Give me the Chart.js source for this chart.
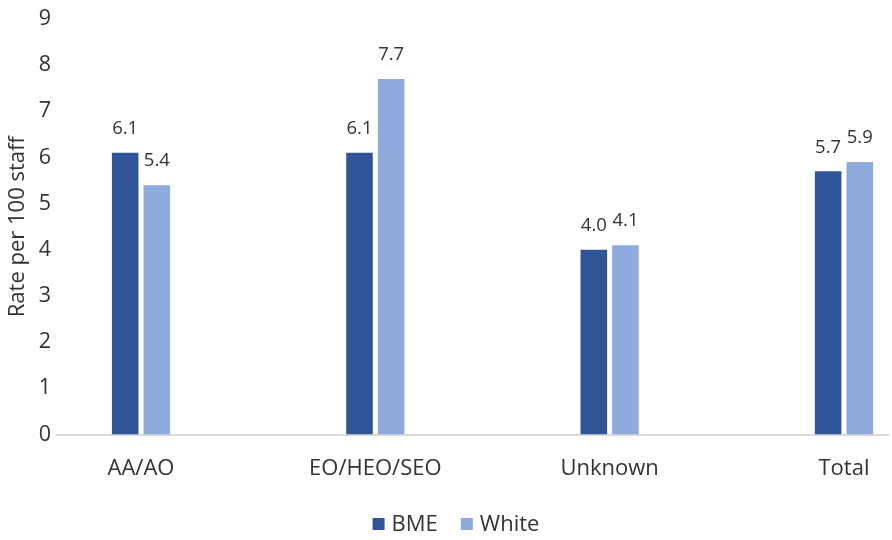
<!DOCTYPE html>
<html>
<head>
<meta charset="utf-8">
<script src="https://cdn.jsdelivr.net/npm/chart.js@4/dist/chart.umd.min.js"></script>
<style>
  html, body { margin: 0; padding: 0; background: #ffffff; }
  #wrap { width: 892px; height: 540px; position: relative; }
</style>
</head>
<body>
<div id="wrap"><canvas id="chart" width="892" height="540"></canvas></div>
<script>
// Rate per 100 staff by grade group
const categories = ['AA/AO', 'EO/HEO/SEO', 'Unknown', 'Total'];
const seriesNames = ['BME', 'White'];
const bmeRates = [6.1, 6.1, 4.0, 5.7];
const whiteRates = [5.4, 7.7, 4.1, 5.9];
const yTickValues = [0, 1, 2, 3, 4, 5, 6, 7, 8, 9];

const BME_COLOR = '#2F5597';
const WHITE_COLOR = '#8FAADC';
const TEXT_COLOR = '#333333';
const FONT_FAMILY = '"Open Sans", Lato, sans-serif';

// Value labels above each bar
const valueLabels = {
  id: 'valueLabels',
  afterDatasetsDraw(chart) {
    const ctx = chart.ctx;
    ctx.save();
    ctx.font = '18.5px ' + FONT_FAMILY;
    ctx.fillStyle = TEXT_COLOR;
    ctx.textAlign = 'center';
    ctx.textBaseline = 'middle';
    chart.data.datasets.forEach((ds, di) => {
      chart.getDatasetMeta(di).data.forEach((bar, i) => {
        ctx.fillText(ds.data[i].y.toFixed(1), bar.x, bar.y - 24);
      });
    });
    ctx.restore();
  }
};

// Horizontal legend row under the axis labels
const bottomLegend = {
  id: 'bottomLegend',
  afterDraw(chart) {
    const ctx = chart.ctx;
    const box = 12, textGap = 7, itemGap = 23, cy = 524, centerX = 456;
    ctx.save();
    ctx.font = '22px ' + FONT_FAMILY;
    ctx.textBaseline = 'middle';
    ctx.textAlign = 'left';
    const items = chart.data.datasets.map(ds => ({
      label: ds.label, color: ds.backgroundColor,
      w: box + textGap + ctx.measureText(ds.label).width
    }));
    const total = items.reduce((s, it) => s + it.w, 0) + itemGap * (items.length - 1);
    let x = centerX - total / 2;
    items.forEach(it => {
      ctx.fillStyle = it.color;
      ctx.fillRect(x, cy - box / 2, box, box);
      ctx.fillStyle = TEXT_COLOR;
      ctx.fillText(it.label, x + box + textGap, cy + 1);
      x += it.w + itemGap;
    });
    ctx.restore();
  }
};

new Chart(document.getElementById('chart'), {
  type: 'bar',
  data: {
    datasets: [
      {
        label: seriesNames[0],
        data: bmeRates.map((v, i) => ({ x: i, y: v })),
        backgroundColor: BME_COLOR,
        borderWidth: 0
      },
      {
        label: seriesNames[1],
        data: whiteRates.map((v, i) => ({ x: i, y: v })),
        backgroundColor: WHITE_COLOR,
        borderWidth: 0
      }
    ]
  },
  options: {
    responsive: false,
    animation: false,
    devicePixelRatio: 1,
    categoryPercentage: 0.27,
    barPercentage: 0.84,
    layout: { padding: { top: 18, right: 4, bottom: 0, left: 0 } },
    plugins: {
      legend: { display: false },
      tooltip: { enabled: false }
    },
    scales: {
      x: {
        type: 'linear',
        offset: false,
        bounds: 'ticks',
        min: -0.3585,
        max: 3.188,
        afterBuildTicks: (scale) => {
          scale.ticks = categories.map((c, i) => ({ value: i }));
        },
        afterFit: (scale) => { scale.height = 105.5; },
        grid: { display: false, drawTicks: false, offset: false },
        border: { display: true, color: '#D9D9D9', width: 2 },
        ticks: {
          callback: (v) => categories[v],
          autoSkip: false,
          maxRotation: 0,
          padding: 21,
          color: TEXT_COLOR,
          font: { family: FONT_FAMILY, size: 22 }
        }
      },
      y: {
        min: 0,
        max: 9,
        afterBuildTicks: (scale) => {
          scale.ticks = yTickValues.map(v => ({ value: v }));
        },
        afterFit: (scale) => { scale.width = 57; },
        grid: { display: false, drawTicks: false },
        border: { display: false },
        ticks: {
          padding: 6,
          color: TEXT_COLOR,
          font: { family: FONT_FAMILY, size: 21.5 }
        },
        title: {
          display: true,
          text: 'Rate per 100 staff',
          color: TEXT_COLOR,
          font: { family: FONT_FAMILY, size: 22 },
          padding: { top: 5, bottom: 0 }
        }
      }
    }
  },
  plugins: [valueLabels, bottomLegend]
});
</script>
</body>
</html>
